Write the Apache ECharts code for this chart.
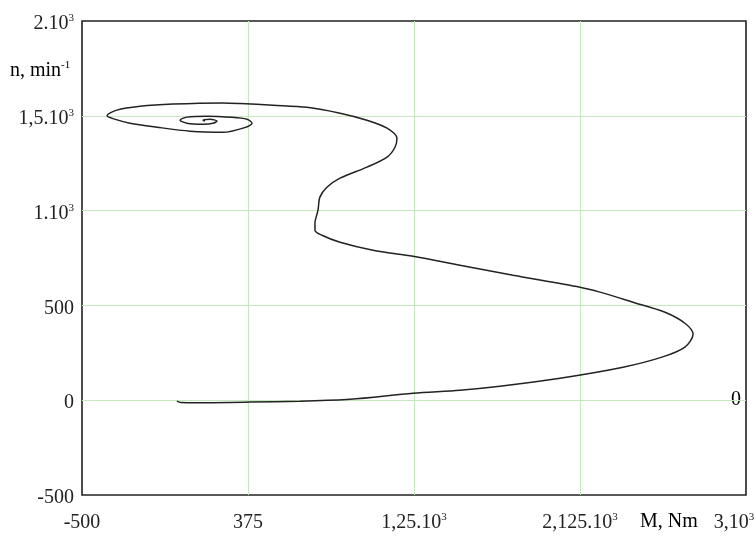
<!DOCTYPE html>
<html>
<head>
<meta charset="utf-8">
<script src="https://cdn.jsdelivr.net/npm/echarts@6/dist/echarts.min.js"></script>
<style>
html,body{margin:0;padding:0;background:#fff;}
#chart{width:756px;height:538px;}
</style>
</head>
<body>
<div id="chart"></div>
<script>
// Torque M (Nm) vs speed n (min^-1) trajectory
const torqueM = [
  0, 20, 120, 385, 649, 913, 1245, 1492, 1703, 2020, 2352, 2557, 2678, 2721, 2678, 2573, 2404, 2230, 2125,
  1772, 1492, 1245, 1034, 860, 765, 728, 728, 744, 754, 791, 860, 1002, 1108, 1150, 1160, 1108, 1002, 860,
  686, 507, 333, 243, -20, -194, -316, -368, -337, -247, -105, 69, 243, 349, 396, 370, 280, 159, 53, 17,
  53, 138, 191, 212, 175, 138, 148
];
const speedN = [
  -5, -12, -13, -10, -5, 5, 37, 53, 74, 116, 174, 227, 280, 348, 406, 464, 517, 570, 596,
  659, 712, 759, 791, 833, 870, 897, 933, 1002, 1071, 1123, 1171, 1229, 1282, 1334, 1382, 1435, 1477, 1514,
  1545, 1556, 1565, 1568, 1562, 1550, 1530, 1500, 1485, 1461, 1440, 1419, 1413, 1435, 1461, 1482, 1493, 1498, 1493, 1477,
  1461, 1456, 1461, 1472, 1482, 1477, 1472
];
const xTickValues = [-500, 375, 1250, 2125, 3000];
const xTickLabels = ['-500', '375', '1,25.10³', '2,125.10³', '3,10³'];
const yTickValues = [-500, 0, 500, 1000, 1500, 2000];
const yTickLabels = ['-500', '0', '500', '1.10³', '1,5.10³', '2.10³'];
const xAxisTitle = 'M, Nm';
const yAxisTitle = 'n, min⁻¹';
const rightZeroLabel = '0';

function toRich(s) {
  return s.replace(/^([^³⁻]*)(.*)$/, function (m, base, rest) {
    let out = '{a|' + base + '}';
    if (rest) {
      out += '{s|' + rest.replace('³', '3').replace('⁻¹', '-1') + '}';
    }
    return out;
  });
}
const rich = {
  a: { fontFamily: 'Liberation Serif', fontSize: 20, color: '#222', lineHeight: 22 },
  s: { fontFamily: 'Liberation Serif', fontSize: 11, color: '#222', verticalAlign: 'top', lineHeight: 12 },
  p: { width: 24, lineHeight: 22 }
};

const points = torqueM.map((m, i) => [m, speedN[i]]);

const chart = echarts.init(document.getElementById('chart'), null, { renderer: 'canvas' });
chart.setOption({
  animation: false,
  backgroundColor: '#fff',
  grid: {
    left: 82, right: 10, top: 21, bottom: 43,
    containLabel: false, outerBoundsMode: 'none',
    show: true, borderColor: '#222', borderWidth: 1.6, backgroundColor: 'transparent'
  },
  xAxis: {
    type: 'value', min: -500, max: 3000,
    axisLine: { show: false },
    axisTick: { show: false, customValues: xTickValues },
    splitLine: { show: true, showMinLine: false, showMaxLine: false, lineStyle: { color: '#c6e8bf', width: 1 } },
    axisLabel: {
      customValues: xTickValues, margin: 17, showMinLabel: true, showMaxLabel: true, hideOverlap: false,
      formatter: function (v) {
        const i = xTickValues.indexOf(v);
        if (i < 0) return '';
        return toRich(xTickLabels[i]) + (i === xTickValues.length - 1 ? '{p|}' : '');
      },
      rich: rich
    }
  },
  yAxis: {
    type: 'value', min: -500, max: 2000, interval: 500,
    axisLine: { show: false },
    axisTick: { show: false },
    splitLine: { show: true, showMinLine: false, showMaxLine: false, lineStyle: { color: '#c6e8bf', width: 1 } },
    axisLabel: {
      margin: 8, showMinLabel: true, showMaxLabel: true,
      padding: [6, 0, 0, 0],
      formatter: function (v) { const i = yTickValues.indexOf(v); return i >= 0 ? toRich(yTickLabels[i]) : ''; },
      rich: rich
    }
  },
  graphic: [
    { type: 'text', left: 10, top: 60, style: { text: toRich(yAxisTitle), rich: rich } },
    { type: 'text', left: 640, top: 512, style: { text: toRich(xAxisTitle), rich: rich } },
    { type: 'text', left: 731, top: 390, style: { text: toRich(rightZeroLabel), rich: rich } }
  ],
  series: [{
    type: 'line',
    data: points,
    showSymbol: false,
    smooth: 0.3,
    lineStyle: { color: '#222', width: 1.5 },
    z: 5
  }]
});
</script>
</body>
</html>
